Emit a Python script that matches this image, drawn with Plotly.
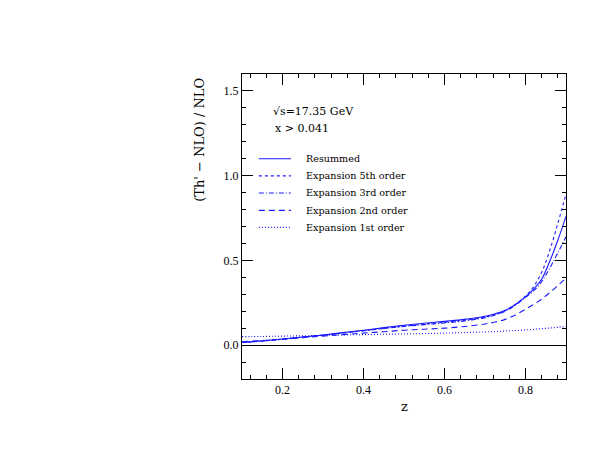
"""Resummed vs fixed-order expansions, ratio to NLO."""

import plotly.graph_objects as go

z = [0.10, 0.15, 0.20, 0.25, 0.30, 0.35, 0.40, 0.45, 0.50, 0.55, 0.60,
     0.65, 0.70, 0.725, 0.75, 0.775, 0.80, 0.82, 0.84, 0.86, 0.88, 0.90]

resummed = [0.015, 0.025, 0.036, 0.048, 0.060, 0.074, 0.088, 0.103, 0.117,
            0.129, 0.140, 0.152, 0.170, 0.185, 0.205, 0.240, 0.285, 0.330,
            0.390, 0.495, 0.620, 0.760]
expansion_5th = [0.015, 0.024, 0.034, 0.046, 0.058, 0.071, 0.085, 0.099,
                 0.112, 0.124, 0.135, 0.147, 0.165, 0.180, 0.203, 0.240,
                 0.290, 0.345, 0.430, 0.560, 0.720, 0.890]
expansion_3rd = [0.016, 0.025, 0.035, 0.047, 0.059, 0.072, 0.085, 0.098,
                 0.110, 0.121, 0.131, 0.143, 0.162, 0.178, 0.200, 0.235,
                 0.282, 0.320, 0.375, 0.455, 0.545, 0.640]
expansion_2nd = [0.020, 0.027, 0.035, 0.044, 0.053, 0.062, 0.071, 0.079,
                 0.088, 0.094, 0.100, 0.110, 0.125, 0.136, 0.152, 0.178,
                 0.212, 0.240, 0.272, 0.310, 0.352, 0.395]
expansion_1st = [0.050, 0.051, 0.053, 0.055, 0.057, 0.060, 0.062, 0.064,
                 0.066, 0.068, 0.071, 0.074, 0.078, 0.080, 0.083, 0.086,
                 0.090, 0.093, 0.097, 0.101, 0.105, 0.110]

series = [
    ("Resummed", resummed, "solid"),
    ("Expansion 5th order", expansion_5th, "3px,3px"),
    ("Expansion 3rd order", expansion_3rd, "5px,2px,1px,2px"),
    ("Expansion 2nd order", expansion_2nd, "6px,4px"),
    ("Expansion 1st order", expansion_1st, "1px,2px"),
]

BLUE = "#1a1aff"
FONT = "DejaVu Serif"
TICK_FONT = "Liberation Serif"

fig = go.Figure()
for name, values, dash in series:
    fig.add_trace(
        go.Scatter(
            x=z, y=values, name=name, mode="lines",
            line=dict(color=BLUE, width=1.1, dash=dash, shape="spline"),
        )
    )

# hand-drawn legend in the top-left of the frame (paper coords)
shapes = []
annotations = []
row_y = [0.722, 0.666, 0.610, 0.553, 0.497]
for (name, _, dash), ry in zip(series, row_y):
    shapes.append(dict(type="line", xref="paper", yref="paper",
                       x0=0.052, x1=0.151, y0=ry, y1=ry,
                       line=dict(color=BLUE, width=1.1, dash=dash)))
    annotations.append(dict(text=name, xref="paper", yref="paper",
                            x=0.19, y=ry, xanchor="left", yanchor="middle",
                            showarrow=False,
                            font=dict(family=FONT, size=9.6, color="black")))

annotations += [
    dict(text="√s=17.35 GeV", xref="paper", yref="paper", x=0.09, y=0.878,
         xanchor="left", yanchor="middle", showarrow=False,
         font=dict(family=FONT, size=11, color="black")),
    dict(text="x > 0.041", xref="paper", yref="paper", x=0.097, y=0.820,
         xanchor="left", yanchor="middle", showarrow=False,
         font=dict(family=FONT, size=11, color="black")),
    dict(text="(Th' − NLO) / NLO", xref="paper", yref="paper", x=-0.13,
         y=0.784, xanchor="center", yanchor="middle", textangle=-90,
         showarrow=False, font=dict(family=FONT, size=13, color="black")),
    dict(text="z", xref="paper", yref="paper", x=0.5, y=-0.089,
         xanchor="center", yanchor="middle", showarrow=False,
         font=dict(family=FONT, size=13, color="black")),
]

axis_common = dict(
    showline=True, linecolor="black", linewidth=1, mirror="allticks",
    ticks="inside", ticklen=11, tickcolor="black", tickwidth=1,
    showgrid=False, tickfont=dict(family=TICK_FONT, size=12, color="black"),
)

fig.update_layout(
    width=591, height=457,
    margin=dict(l=234, r=33, t=66, b=86),
    plot_bgcolor="white", paper_bgcolor="white",
    showlegend=False,
    shapes=shapes, annotations=annotations,
    xaxis=dict(range=[0.1, 0.9], tickvals=[0.2, 0.4, 0.6, 0.8],
               ticktext=["0.2", "0.4", "0.6", "0.8"], zeroline=False,
               minor=dict(dtick=0.04, tick0=0.0, ticks="inside", ticklen=4,
                          tickcolor="black", showgrid=False),
               **axis_common),
    yaxis=dict(range=[-0.2, 1.6], tickvals=[0.0, 0.5, 1.0, 1.5],
               ticktext=["0.0", "0.5", "1.0", "1.5"],
               zeroline=True, zerolinecolor="black", zerolinewidth=1,
               minor=dict(dtick=0.1, tick0=0.0, ticks="inside", ticklen=4,
                          tickcolor="black", showgrid=False),
               **axis_common),
)

fig.write_html("out.html")
